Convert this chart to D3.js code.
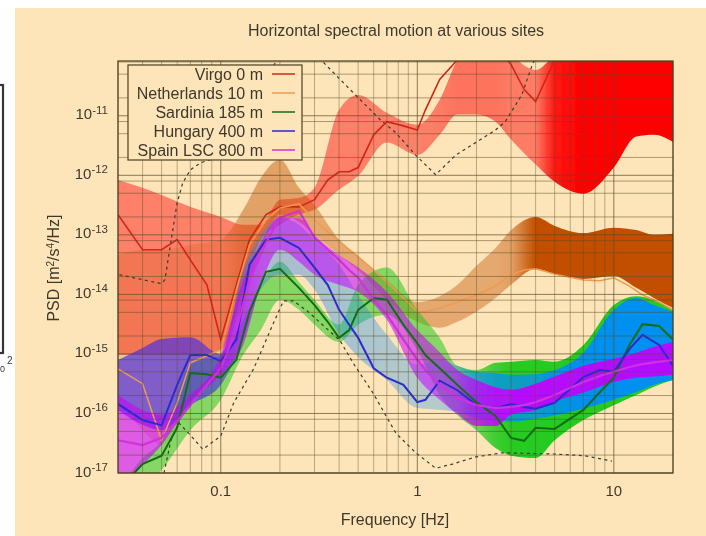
<!DOCTYPE html>
<html><head><meta charset="utf-8">
<script src="https://cdn.jsdelivr.net/npm/d3@7"></script>
<style>html,body{margin:0;padding:0;background:#fff}svg{display:block}text{font-family:"Liberation Sans",Arial,sans-serif;fill:#3e382c}</style>
</head><body><div id="c"></div>
<script>
const titleText="Horizontal spectral motion at various sites";
const xLabel="Frequency [Hz]";
const xTicks=[0.1,1,10];
const yExponents=[-17,-16,-15,-14,-13,-12,-11];
const yGridMultipliers=[1,2,5,8];
const siteNames=["Virgo 0 m","Netherlands 10 m","Sardinia 185 m","Hungary 400 m","Spain LSC 800 m"];
const lineColors=["#d82418","#f09a50","#0f6e14","#2a2ad0","#d030e0"];
const lineWidths=[1.6,1.5,2,2,2.2];
const bandColors=["#ff0000","#c24f00","#10c810","#0090f0","#c800ff"];

const bandFreq=[0.03,0.04,0.05,0.07,0.1,0.13,0.16,0.2,0.25,0.3,0.4,0.5,0.7,1,1.3,1.6,2,2.5,3,4,5,7,10,13,16,20];
const lineFreq=[0.03,0.04,0.05,0.06,0.07,0.085,0.1,0.12,0.14,0.17,0.2,0.25,0.3,0.35,0.4,0.45,0.5,0.6,0.7,0.85,1,1.1,1.3,1.6,2,2.5,3,3.5,4,5,7,8.5,10,12,14,17,20];

const virgoUpper=[-12.08,-12.21,-12.33,-12.53,-12.70,-12.83,-12.83,-12.41,-12.38,-12.21,-10.90,-10.65,-10.95,-11.15,-10.73,-10.06,-9.72,-9.72,-9.97,-10.23,-9.97,-9.5,-9.5,-9.5,-9.5,-9.5];
const virgoLower=[-15.02,-15.02,-15.02,-15.02,-14.93,-13.92,-13.08,-12.83,-12.66,-12.58,-12.24,-12.01,-11.45,-11.66,-11.32,-10.98,-10.98,-11.10,-11.40,-11.82,-12.11,-12.31,-11.87,-11.35,-11.32,-11.44];
const netherUpper=[-13.34,-13.25,-13.25,-13.17,-13.08,-12.58,-12.04,-11.74,-12.21,-12.50,-13.08,-13.35,-13.76,-14.13,-14.03,-13.84,-13.52,-13.22,-12.92,-12.70,-12.85,-12.97,-12.88,-12.92,-13.00,-12.98];
const netherLower=[-15.77,-16.28,-16.53,-15.77,-15.18,-14.09,-13.25,-12.66,-12.78,-13.00,-13.34,-13.59,-14.09,-14.46,-14.56,-14.46,-14.29,-14.06,-13.84,-13.57,-13.66,-13.74,-13.69,-13.89,-14.06,-14.23];
const sardUpper=[-17.29,-16.75,-16.45,-15.18,-15.02,-14.43,-13.84,-13.45,-13.79,-14.09,-14.51,-13.84,-13.55,-14.26,-14.73,-15.20,-15.27,-15.15,-15.13,-15.10,-15.13,-14.85,-14.18,-14.03,-14.09,-14.26];
const sardLower=[-17.62,-17.29,-16.95,-16.28,-15.77,-15.02,-14.60,-14.09,-14.26,-14.51,-14.80,-14.51,-14.34,-14.93,-15.69,-16.03,-16.28,-16.58,-16.71,-16.75,-16.45,-16.11,-15.86,-15.69,-15.55,-15.44];
const hungUpper=[-15.10,-14.90,-14.75,-14.72,-15.00,-13.59,-13.00,-12.71,-12.83,-13.08,-13.50,-14.01,-14.68,-15.18,-15.10,-15.20,-15.30,-15.32,-15.35,-15.34,-15.27,-14.98,-14.26,-14.06,-14.18,-14.29];
const hungLower=[-15.94,-16.19,-16.28,-15.86,-15.52,-14.76,-13.92,-13.67,-13.67,-13.92,-14.67,-15.05,-15.44,-15.91,-15.94,-15.97,-16.08,-16.11,-16.14,-16.09,-16.03,-15.92,-15.77,-15.64,-15.52,-15.44];
const spainUpper=[-15.69,-15.94,-16.02,-15.69,-15.02,-13.76,-13.13,-12.71,-12.72,-13.00,-13.34,-13.55,-13.96,-14.60,-14.97,-15.27,-15.44,-15.56,-15.60,-15.50,-15.38,-15.20,-15.08,-14.98,-14.88,-14.80];
const spainLower=[-17.29,-16.87,-16.53,-15.81,-15.35,-14.85,-13.84,-13.25,-13.45,-13.67,-13.84,-13.96,-14.43,-15.40,-15.77,-16.01,-16.21,-16.21,-16.02,-15.94,-15.80,-15.65,-15.47,-15.40,-15.38,-15.35];

const virgoAlpha=[.44,.44,.44,.44,.44,.44,.44,.44,.44,.44,.44,.44,.44,.44,.46,.5,.5,.5,.46,.46,.9,1,1,1,1,1];
const netherAlpha=[.2,.2,.2,.2,.2,.45,.45,.45,.45,.4,.4,.4,.4,.4,.4,.4,.4,.4,.45,1,1,1,1,1,1,1];
const sardAlpha=[.5,.5,.5,.5,.5,.5,.5,.5,.5,.5,.5,.5,.5,.5,.5,.5,.6,.8,.9,.9,.9,.9,.9,.9,.9,.9];
const hungAlpha=[.7,.7,.7,.7,.65,.5,.4,.4,.4,.4,.4,.38,.35,.32,.32,.35,.7,.75,.75,.8,.9,1,1,1,1,1];
const spainAlpha=[.6,.6,.6,.6,.6,.6,.55,.55,.55,.55,.55,.55,.55,.55,.55,.6,.75,.85,.9,.9,.9,.9,.9,.9,.9,.9];
const hungStopColors=["#5030e0","#5030e0","#5030e0","#5030e0","#5030e0","#4060e8","#3080f0","#3080f0","#3080f0","#3088f0","#2090f0","#2090f0","#2090f0","#2090f0","#2090f0","#0090f0","#0090f0","#0090f0","#0090f0","#0090f0","#0090f0","#0090f0","#0090f0","#0090f0","#0090f0","#0090f0"];

const virgoLine=[-12.66,-13.25,-13.25,-13.08,-13.42,-13.84,-14.76,-13.84,-13.08,-12.66,-12.53,-12.53,-12.41,-12.08,-11.94,-11.94,-11.87,-11.32,-11.10,-11.17,-11.24,-10.90,-10.39,-10.06,-9.81,-9.81,-10.14,-10.56,-10.76,-10.06,-9.55,-9.39,-9.39,-9.3,-9.3,-9.3,-9.3];
const netherLine=[-15.25,-15.50,-16.45,-15.82,-15.15,-15.03,-14.93,-13.92,-13.17,-12.75,-12.55,-12.48,-12.75,-12.95,-13.10,-13.25,-13.37,-13.59,-13.79,-14.06,-14.29,-14.29,-14.23,-14.13,-14.01,-13.86,-13.67,-13.59,-13.57,-13.66,-13.76,-13.77,-13.72,-13.86,-14.01,-14.13,-14.26];
const sardLine=[-17.29,-16.85,-16.71,-16.24,-15.32,-15.34,-15.40,-15.10,-14.29,-13.62,-13.57,-13.89,-14.18,-14.46,-14.73,-14.60,-14.26,-14.06,-14.09,-14.51,-14.82,-15.02,-15.24,-15.52,-15.81,-16.04,-16.41,-16.46,-16.24,-16.26,-15.94,-15.64,-15.40,-14.85,-14.50,-14.53,-14.76];
const hungLine=[-15.84,-16.11,-16.20,-15.52,-15.02,-15.02,-15.12,-14.76,-13.50,-13.08,-13.05,-13.22,-13.55,-13.84,-14.26,-14.51,-14.73,-15.24,-15.40,-15.52,-15.81,-15.77,-15.45,-15.61,-15.86,-15.91,-15.84,-15.89,-15.92,-15.82,-15.39,-15.27,-15.30,-14.92,-14.68,-14.85,-15.20];
const spainLine=[-16.45,-16.53,-16.41,-16.14,-15.86,-15.52,-15.24,-14.60,-13.76,-13.13,-12.71,-12.60,-13.05,-13.25,-13.42,-13.59,-13.72,-14.09,-14.34,-14.76,-15.10,-15.27,-15.52,-15.74,-15.86,-15.91,-15.89,-15.86,-15.81,-15.69,-15.47,-15.37,-15.30,-15.22,-15.17,-15.13,-15.10];

const highNoiseFreq=[0.0305,0.05,0.052,0.056,0.06,0.064,0.07,0.079,0.094,0.225,0.33,0.455,0.65,0.78,0.98,1.24,1.57,2.5,2.8,3.4,3.85,4.4];
const highNoise=[-13.67,-13.82,-13.75,-13.08,-12.46,-12.13,-11.91,-11.79,-11.71,-9.72,-10.09,-10.56,-11.07,-11.29,-11.66,-11.99,-11.66,-11.24,-11.10,-10.65,-10.14,-9.72];
const lowNoiseFreq=[0.0514,0.0558,0.0612,0.0689,0.0811,0.1,0.1164,0.147,0.1855,0.2085,0.2342,0.2757,0.405,0.471,0.596,0.778,0.982,1.24,1.51,1.98,2.71,4.85,7.13,9.77];
const lowNoise=[-17,-16.45,-16.16,-16.34,-16.60,-16.38,-15.82,-15.25,-14.48,-14.11,-14.11,-14.28,-14.78,-15.15,-15.66,-16.33,-16.66,-16.92,-16.85,-16.73,-16.66,-16.68,-16.71,-16.80];

const W=706,H=536,L=118,R=673,T=61,B=473;
const x=d3.scaleLog().domain([0.03,20]).range([L,R]);
const y=d3.scaleLog().domain([1e-17,Math.pow(10,-10.08)]).range([B,T]);
const p10=e=>Math.pow(10,e);

const svg=d3.select("#c").append("svg").attr("width",W).attr("height",H);
const defs=svg.append("defs");
defs.append("filter").attr("id","soft").attr("x",0).attr("y",0).attr("width",1).attr("height",1)
  .append("feGaussianBlur").attr("stdDeviation",0.65);
defs.append("clipPath").attr("id","plot").append("rect").attr("x",L).attr("y",T).attr("width",R-L).attr("height",B-T);

const root=svg.append("g").attr("filter","url(#soft)");
root.append("rect").attr("width",W).attr("height",H).attr("fill","#fff");
root.append("rect").attr("x",15).attr("y",8).attr("width",W-15).attr("height",H-8).attr("fill","#fde5b9");
root.append("rect").attr("x",-4).attr("y",85).attr("width",7).attr("height",268).attr("fill","#fff").attr("stroke","#33363a").attr("stroke-width",2.2);
root.append("text").attr("x",7).attr("y",364).attr("font-size",10).text("2");
root.append("text").attr("x",0).attr("y",372).attr("font-size",9).text("0");

const plot=root.append("g").attr("clip-path","url(#plot)");
const bands=[[virgoLower,virgoUpper,virgoAlpha],[netherLower,netherUpper,netherAlpha],[sardLower,sardUpper,sardAlpha],[hungLower,hungUpper,hungAlpha],[spainLower,spainUpper,spainAlpha]];
const area=d3.area().x(d=>x(d.f)).y0(d=>y(p10(d.lo))).y1(d=>y(p10(d.hi))).curve(d3.curveMonotoneX);
bands.forEach((b,i)=>{
  const g=defs.append("linearGradient").attr("id","g"+i).attr("gradientUnits","userSpaceOnUse")
    .attr("x1",L).attr("x2",R).attr("y1",0).attr("y2",0);
  bandFreq.forEach((f,k)=>g.append("stop").attr("offset",Math.min(1,Math.max(0,(x(f)-L)/(R-L))))
    .attr("stop-color",i==3?hungStopColors[k]:bandColors[i]).attr("stop-opacity",b[2][k]));
  plot.append("path").datum(bandFreq.map((f,k)=>({f,lo:b[0][k],hi:b[1][k]}))).attr("d",area).attr("fill",`url(#g${i})`);
});

const lineGen=d3.line().x(d=>x(d[0])).y(d=>y(p10(d[1])));
const grid=root.append("g");
const minor=[];for(let d=-2;d<2;d++)for(let m=1;m<10;m++){const v=m*Math.pow(10,d);if(v>=0.03&&v<=20)minor.push(v);}
grid.selectAll(".v").data(minor).join("line").attr("x1",d=>x(d)).attr("x2",d=>x(d)).attr("y1",T).attr("y2",B)
  .attr("stroke","#5a4c28").attr("stroke-width",1).attr("opacity",d=>xTicks.includes(d)?.7:.42);
const yg=[];for(let e=-17;e<=-11;e++)yGridMultipliers.forEach(m=>{const v=m*Math.pow(10,e);if(v<=y.domain()[1])yg.push({v,m});});
grid.selectAll(".h").data(yg).join("line").attr("x1",L).attr("x2",R).attr("y1",d=>y(d.v)).attr("y2",d=>y(d.v))
  .attr("stroke","#5a4c28").attr("stroke-width",1).attr("opacity",d=>d.m==1?.7:.5);

const lines=plot.append("g");
[[highNoiseFreq,highNoise],[lowNoiseFreq,lowNoise]].forEach(([f,v])=>{
  lines.append("path").attr("d",lineGen(f.map((q,k)=>[q,v[k]]))).attr("fill","none").attr("stroke","#3a3a30").attr("stroke-width",1.2).attr("stroke-dasharray","3 3.5");
});
[virgoLine,netherLine,sardLine,hungLine,spainLine].forEach((v,i)=>{
  lines.append("path").attr("d",lineGen(lineFreq.map((q,k)=>[q,v[k]]))).attr("fill","none").attr("stroke",lineColors[i]).attr("stroke-width",lineWidths[i]);
});

root.append("rect").attr("x",L).attr("y",T).attr("width",R-L).attr("height",B-T).attr("fill","none").attr("stroke","#4a3f22").attr("stroke-width",1.2);

const lg=root.append("g");
lg.append("rect").attr("x",128).attr("y",65).attr("width",174).attr("height",95).attr("fill","#fde5b9").attr("stroke","#5a4c28").attr("stroke-width",1.3);
siteNames.forEach((s,i)=>{
  const ly=74+i*19;
  lg.append("text").attr("x",263).attr("y",ly+5.5).attr("text-anchor","end").attr("font-size",16).text(s);
  lg.append("line").attr("x1",272).attr("x2",295).attr("y1",ly).attr("y2",ly).attr("stroke",lineColors[i]).attr("stroke-width",1.5);
});

root.append("text").attr("x",396).attr("y",36).attr("text-anchor","middle").attr("font-size",16).text(titleText);
root.append("text").attr("x",395).attr("y",525).attr("text-anchor","middle").attr("font-size",16).text(xLabel);
xTicks.forEach(t=>root.append("text").attr("x",x(t)).attr("y",496).attr("text-anchor","middle").attr("font-size",15).text(d3.format("~g")(t)));
yExponents.forEach(e=>{
  const tx=root.append("text").attr("x",108).attr("y",y(p10(e))+3.5).attr("text-anchor","end").attr("font-size",15);
  tx.append("tspan").text("10");
  tx.append("tspan").attr("dy",-5.5).attr("font-size",11.5).text(String(e));
});
const yl=root.append("text").attr("transform","translate(59,268) rotate(-90)").attr("text-anchor","middle").attr("font-size",16);
yl.append("tspan").text("PSD [m");yl.append("tspan").attr("dy",-5).attr("font-size",10).text("2");
yl.append("tspan").attr("dy",5).text("/s");yl.append("tspan").attr("dy",-5).attr("font-size",10).text("4");
yl.append("tspan").attr("dy",5).text("/Hz]");
</script></body></html>
